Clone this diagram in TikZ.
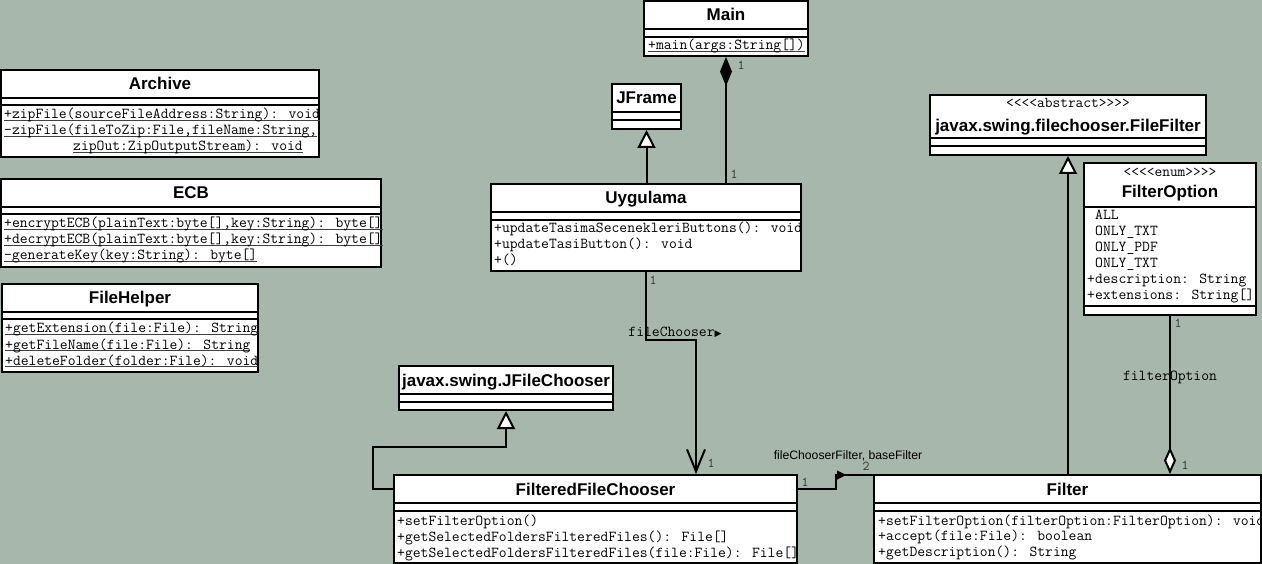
\documentclass[tikz,border=0pt]{standalone}
\usepackage{fontspec}
\setmainfont{Liberation Sans}
\newfontfamily\symf{DejaVu Sans}
\usetikzlibrary{arrows.meta}
\definecolor{bgc}{RGB}{168,183,171}
\newsavebox\ulbox
\newcommand\ulx[1]{\sbox\ulbox{#1}\rlap{\color{black!75}\rule[-2.2pt]{\wd\ulbox}{0.9pt}}\usebox\ulbox}
\newcommand\mkclass[5]{\node[clsbox,minimum width={(#4-#2)*1pt},minimum height={(#5-#3)*1pt}] (#1) at ({(#2+#4)/2},{(#3+#5)/2}) {};}
\newcommand\mksep[2]{\draw[sepl] (#1.west |- 0,#2) -- (#1.east |- 0,#2);}
\begin{document}
\begin{tikzpicture}[x=1pt,y=-1pt,
  clsbox/.style={draw,fill=white,line width=2pt,inner sep=0pt},
  sepl/.style={line width=2pt},
  ttl/.style={anchor=base,inner sep=0pt,font=\bfseries\fontsize{17}{18}\selectfont},
  stereo/.style={anchor=base,inner sep=0pt,font=\ttfamily\fontsize{15}{15}\selectfont},
  mth/.style={anchor=base west,inner sep=0pt,font=\ttfamily\fontsize{15.2}{16}\selectfont},
  mult/.style={inner sep=0pt,text=black!80,font=\ttfamily\fontsize{13.5}{14}\selectfont},
  lbl/.style={anchor=base,inner sep=0pt,font=\ttfamily\fontsize{15.2}{16}\selectfont},
  conn/.style={line width=2pt},
  inh/.style={conn,-{Triangle[length=18pt,width=18pt,fill=white,line width=2pt]}},
]
\fill[bgc] (0,0) rectangle (1262,564);
\useasboundingbox (0,0) rectangle (1262,564);
\clip (0,0) rectangle (1262,564);

% ---------- class boxes ----------
\mkclass{main}{644}{1}{808}{56}
\mksep{main}{29}\mksep{main}{37}
\node[ttl] (mainT) at (726,21) {Main};
\node[mth] (mainM1) at (648,50) {\ulx{+main(args:String[])}};

\mkclass{arch}{1}{70}{319}{157}
\mksep{arch}{98}\mksep{arch}{105}
\node[ttl] (archT) at (160,90) {Archive};
\node[mth] (archM1) at (4,119) {\ulx{+zipFile(sourceFileAddress:String): void}};
\node[mth] (archM2) at (4,135) {\ulx{-zipFile(fileToZip:File,fileName:String,}};
\node[mth] (archM3) at (73,151) {\ulx{zipOut:ZipOutputStream): void}};

\mkclass{ecb}{1}{179}{381}{267}
\mksep{ecb}{207}\mksep{ecb}{214}
\node[ttl] (ecbT) at (191,199) {ECB};
\node[mth] (ecbM1) at (4,228) {\ulx{+encryptECB(plainText:byte[],key:String): byte[]}};
\node[mth] (ecbM2) at (4,244) {\ulx{+decryptECB(plainText:byte[],key:String): byte[]}};
\node[mth] (ecbM3) at (4,260) {\ulx{-generateKey(key:String): byte[]}};

\mkclass{fh}{2}{284}{258}{372}
\mksep{fh}{312}\mksep{fh}{319}
\node[ttl] (fhT) at (130,304) {FileHelper};
\node[mth] (fhM1) at (5,333) {\ulx{+getExtension(file:File): String}};
\node[mth] (fhM2) at (5,349) {\ulx{+getFileName(file:File): String}};
\node[mth] (fhM3) at (5,365) {\ulx{+deleteFolder(folder:File): void}};

\mkclass{jf}{612}{84}{681}{129}
\mksep{jf}{112}\mksep{jf}{120}
\node[ttl] (jfT) at (646.5,104) {JFrame};

\mkclass{uyg}{491}{184}{801}{271}
\mksep{uyg}{212}\mksep{uyg}{220}
\node[ttl] (uygT) at (646,204) {Uygulama};
\node[mth] (uygM1) at (494,233) {+updateTasimaSecenekleriButtons(): void};
\node[mth] (uygM2) at (494,249) {+updateTasiButton(): void};
\node[mth] (uygM3) at (494,265) {+()};

\mkclass{ff}{930}{95}{1206}{155}
\mksep{ff}{138}\mksep{ff}{146}
\node[stereo] (ffS) at (1068,108) {<<<<abstract>>>>};
\node[ttl] (ffT) at (1068,132) {javax.swing.filechooser.FileFilter};

\mkclass{fo}{1084}{163}{1256}{315}
\mksep{fo}{207}\mksep{fo}{306}
\node[stereo] (foS) at (1170,177) {<<<<enum>>>>};
\node[ttl] (foT) at (1170,198) {FilterOption};
\node[mth] (foA1) at (1095,220) {ALL};
\node[mth] (foA2) at (1095,236) {ONLY\_TXT};
\node[mth] (foA3) at (1095,252) {ONLY\_PDF};
\node[mth] (foA4) at (1095,268) {ONLY\_TXT};
\node[mth] (foA5) at (1087,284) {+description: String};
\node[mth] (foA6) at (1087,300) {+extensions: String[]};

\mkclass{jfc}{399}{366}{613}{410}
\mksep{jfc}{394}\mksep{jfc}{402}
\node[ttl] (jfcT) at (506,386) {javax.swing.JFileChooser};

\mkclass{ffc}{394}{475}{797}{563}
\mksep{ffc}{503}\mksep{ffc}{511}
\node[ttl] (ffcT) at (595.5,495) {FilteredFileChooser};
\node[mth] (ffcM1) at (397,525) {+setFilterOption()};
\node[mth] (ffcM2) at (397,541) {+getSelectedFoldersFilteredFiles(): File[]};
\node[mth] (ffcM3) at (397,557) {+getSelectedFoldersFilteredFiles(file:File): File[]};

\mkclass{flt}{874}{475}{1261}{563}
\mksep{flt}{503}\mksep{flt}{511}
\node[ttl] (fltT) at (1067.5,495) {Filter};
\node[mth] (fltM1) at (878,525) {+setFilterOption(filterOption:FilterOption): void};
\node[mth] (fltM2) at (878,540.5) {+accept(file:File): boolean};
\node[mth] (fltM3) at (878,556) {+getDescription(): String};

% ---------- connectors ----------
% composition Main <>-- Uygulama
\draw[conn,{Diamond[length=29pt,width=12pt,line width=2pt]}-] (main.south) -- (main.south |- uyg.north);
\node[mult] (m1) at (741,65) {1};
\node[mult] (m2) at (734,174) {1};

% Uygulama --|> JFrame
\draw[inh] (jf.south |- uyg.north) -- (jf.south);

% Uygulama --> FilteredFileChooser (fileChooser)
\coordinate (fc1) at (646,340);
\coordinate (fc2) at (696,340);
\draw[conn,-{Straight Barb[length=22pt,width=18pt,line width=2pt]}] (uyg.south) -- (fc1) -- (fc2) -- (fc2 |- ffc.north);
\node[lbl] (fcL) at (675,337) {fileChooser{\symf\fontsize{9}{10}\selectfont ▶}};
\node[mult] (m3) at (653,280) {1};
\node[mult] (m4) at (711,463) {1};

% FilteredFileChooser --|> JFileChooser
\coordinate (g1) at (373,489);
\coordinate (g2) at (373,447);
\coordinate (g3) at (506,447);
\draw[inh] (ffc.west |- g1) -- (g1) -- (g2) -- (g3) -- (jfc.south);

% FilteredFileChooser --> Filter
\coordinate (h1) at (836,489);
\coordinate (h2) at (836,475);
\draw[conn] (ffc.east |- h1) -- (h1) -- (h2) -- (flt.west |- h2);
\draw[line width=1pt,-{Triangle[length=9pt,width=9pt]}] (h2) -- ++(10,0);
\node[anchor=base,inner sep=0pt,font=\fontsize{12.2}{14}\selectfont] (hL) at (848,459) {fileChooserFilter, baseFilter};
\node[mult] (m5) at (805,482) {1};
\node[mult] (m6) at (866,466) {2};

% Filter --|> FileFilter
\draw[inh] (ff.south |- flt.north) -- (ff.south);

% FilterOption --<> Filter
\draw[conn,-{Diamond[length=27pt,width=12pt,fill=white,line width=2pt]}] (fo.south) -- (fo.south |- flt.north);
\node[lbl] (foL) at (1170,380) {filterOption};
\node[mult] (m7) at (1178,323) {1};
\node[mult] (m8) at (1185,465) {1};
\end{tikzpicture}
\end{document}
